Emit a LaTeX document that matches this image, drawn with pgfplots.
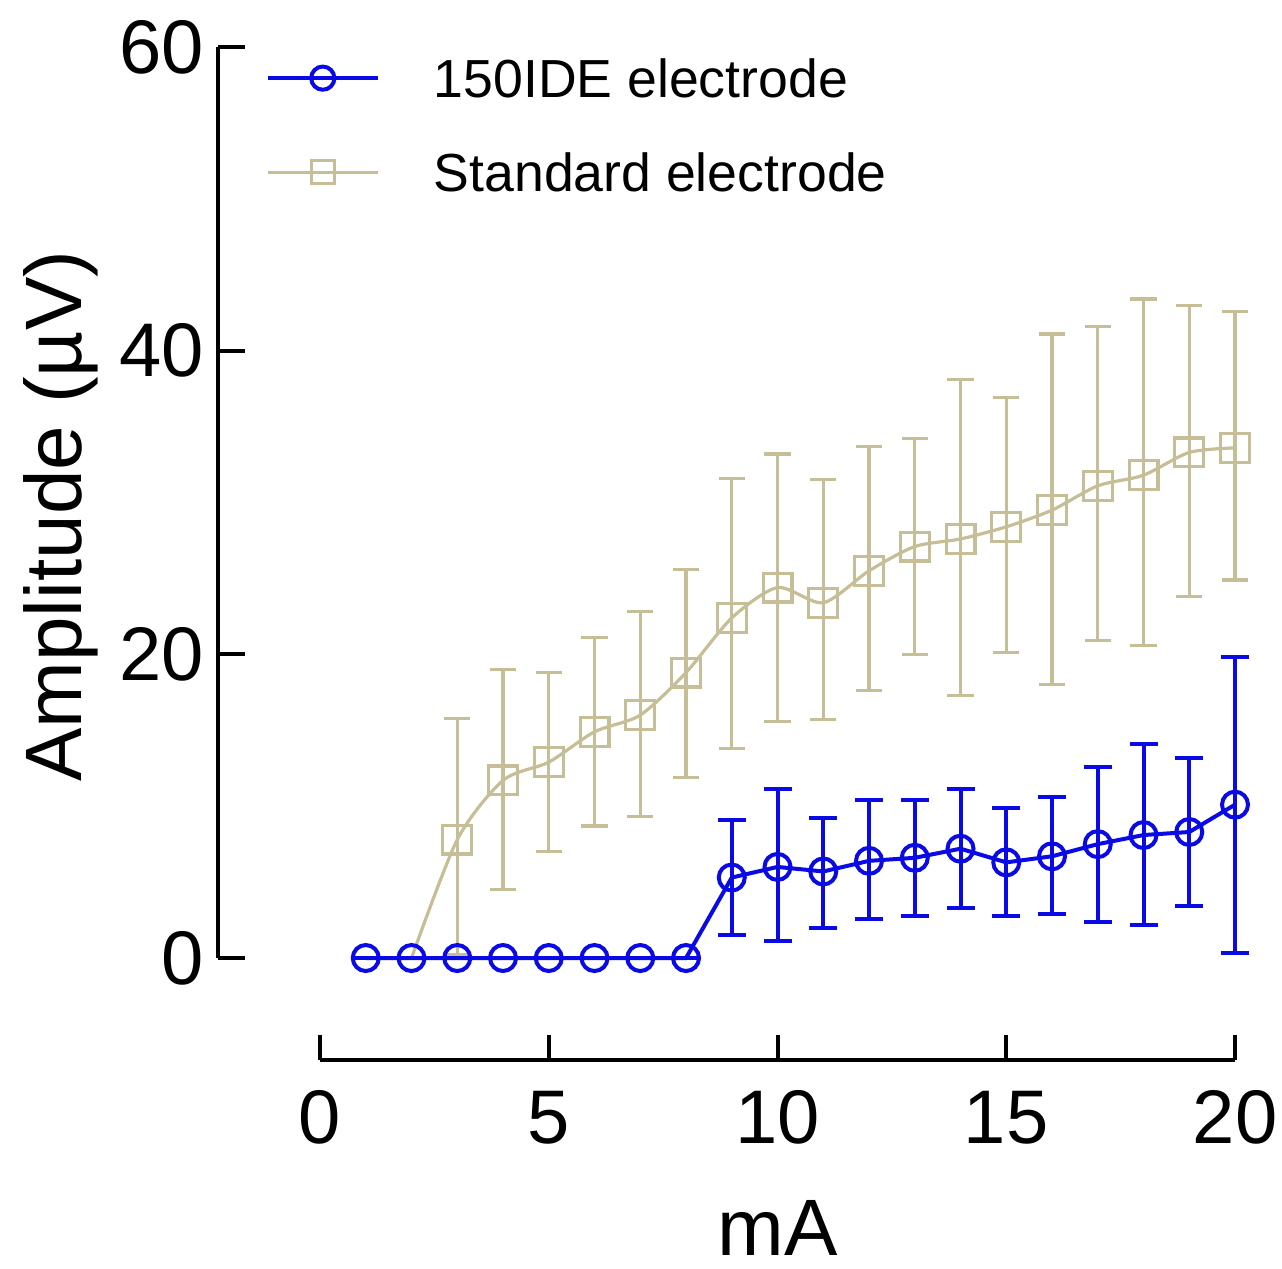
\documentclass[border=0pt]{standalone}
\usepackage{fontspec}
\setmainfont{Liberation Sans}
\usepackage{pgfplots}
\usepackage{pgfplotstable}
\pgfplotsset{compat=1.18}
\definecolor{ideblue}{RGB}{10,10,230}
\definecolor{stdtan}{RGB}{198,190,150}

% Standard electrode: mean, upper and lower error
\pgfplotstableread{
x y ep em
2 0 0 0
3 7.8 8.0 7.6
4 11.7 7.3 7.2
5 12.9 5.9 5.9
6 14.9 6.2 6.2
7 16.0 6.8 6.7
8 18.8 6.8 6.9
9 22.4 9.2 8.6
10 24.4 8.8 8.8
11 23.4 8.1 7.7
12 25.5 8.2 7.9
13 27.1 7.1 7.1
14 27.6 10.5 10.3
15 28.4 8.5 8.3
16 29.5 11.6 11.5
17 31.1 10.5 10.2
18 31.8 11.6 11.2
19 33.3 9.7 9.5
20 33.6 9.0 8.7
}\stdtab

% 150IDE electrode
\pgfplotstableread{
x y ep em
1 0 0 0
2 0 0 0
3 0 0 0
4 0 0 0
5 0 0 0
6 0 0 0
7 0 0 0
8 0 0 0
9 5.3 3.8 3.8
10 6.0 5.1 4.9
11 5.7 3.5 3.7
12 6.4 4.0 3.8
13 6.6 3.8 3.8
14 7.2 3.9 3.9
15 6.3 3.6 3.5
16 6.7 3.9 3.8
17 7.5 5.1 5.1
18 8.1 6.0 5.9
19 8.3 4.9 4.9
20 10.1 9.7 9.8
}\idetab

\pgfplotsset{
  stdstyle/.style={color=stdtan, line width=0.8pt, mark=square,
    mark size=3.6pt, mark options={line width=0.8pt, solid}},
  idestyle/.style={color=ideblue, line width=1pt, mark=o,
    mark size=3.25pt, mark options={line width=1pt, solid}},
}

\begin{document}
\begin{tikzpicture}
% canvas of the reference
\path (0,0) rectangle (320.5pt,-316.75pt);

\begin{axis}[
  at={(54.5pt,-239.5pt)}, anchor=south west,
  scale only axis, width=254.25pt, height=227.75pt,
  xmin=-2.23, xmax=20, ymin=0, ymax=60,
  hide x axis, axis y line*=left,
  ytick={0,20,40,60},
  tick align=inside, major tick length=6.75pt,
  axis line style={line width=1pt, black},
  tick style={line width=1pt, black},
  /pgf/number format/assume math mode=true,
  yticklabel style={font=\fontsize{19}{19}\selectfont, inner sep=0pt,
    anchor=east, xshift=-3.25pt},
  ylabel={Amplitude (µV)},
  ylabel style={font=\fontsize{20}{20}\selectfont,
    at={(axis description cs:-0.155,0.485)}, anchor=center},
  clip=false,
  legend style={draw=none, fill=none, at={(0.0462,0.988)},
    anchor=north west, inner sep=0pt, row sep=13.8pt,
    font=\fontsize{13.4}{13.4}\selectfont,
    nodes={inner sep=0pt, text height=9.7pt, text depth=0pt}},
  legend cell align=left,
  legend image code/.code={\draw[mark repeat=2,mark phase=2, mark size=2.9pt]
    plot coordinates {(0pt,0pt) (13.75pt,0pt) (27.5pt,0pt)};},
]
\addplot[stdstyle, smooth, tension=0.45, forget plot, mark indices={2,...,19},
  error bars/.cd, y dir=both, y explicit,
  error bar style={line width=0.8pt, stdtan},
  error mark options={rotate=90, mark size=3.3pt, line width=0.8pt, stdtan}]
  table[x=x, y=y, y error plus=ep, y error minus=em] {\stdtab};

\addplot[idestyle,
  error bars/.cd, y dir=both, y explicit,
  error bar style={line width=1pt, ideblue},
  error mark options={rotate=90, mark size=3.5pt, line width=1pt, ideblue}]
  table[x=x, y=y, y error plus=ep, y error minus=em] {\idetab};
\addlegendentry{\hspace*{13.5pt}150IDE electrode}
\addlegendimage{stdstyle}
\addlegendentry{\hspace*{13.5pt}Standard electrode}
\end{axis}

\begin{axis}[
  at={(80pt,-265pt)}, anchor=south west,
  scale only axis, width=228.75pt, height=20pt,
  xmin=0, xmax=20, ymin=0, ymax=1,
  axis x line*=bottom, hide y axis,
  xtick={0,5,10,15,20},
  tick align=inside, major tick length=6.25pt,
  axis line style={line width=1pt, black},
  tick style={line width=1pt, black},
  /pgf/number format/assume math mode=true,
  xticklabel style={font=\fontsize{19}{19}\selectfont, inner sep=0pt,
    anchor=north, yshift=-7.5pt},
  xlabel={mA},
  xlabel style={font=\fontsize{20}{20}\selectfont,
    at={(axis description cs:0.5,0)}, anchor=base, yshift=-48.75pt},
]
\end{axis}
\end{tikzpicture}
\end{document}
